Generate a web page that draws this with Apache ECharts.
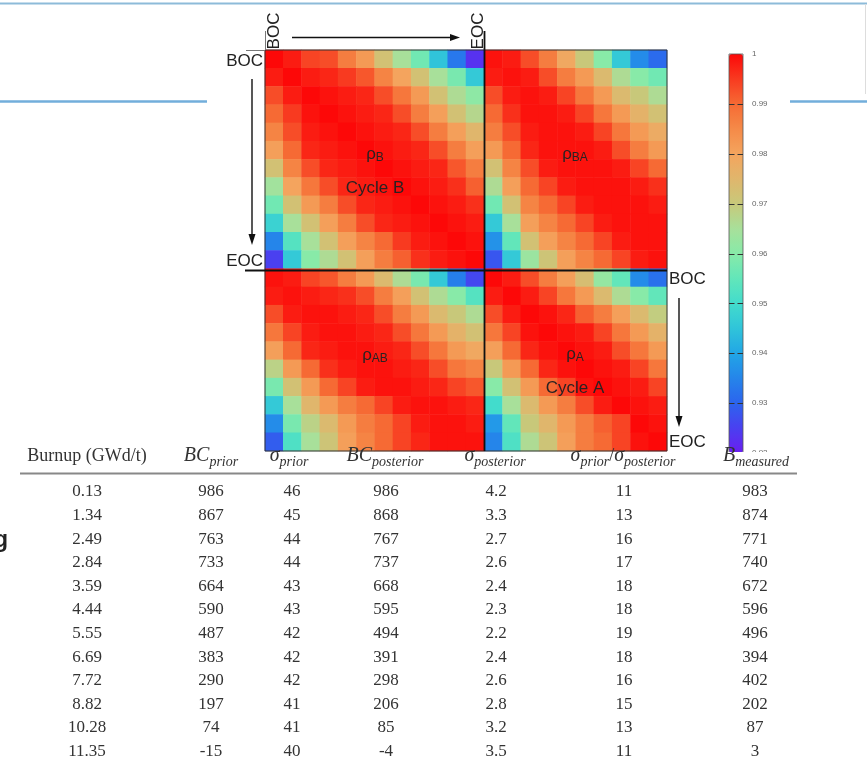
<!DOCTYPE html>
<html><head><meta charset="utf-8">
<script src="https://cdn.jsdelivr.net/npm/echarts@6/dist/echarts.min.js"></script>
<style>html,body{margin:0;padding:0;background:#fff}#c{width:867px;height:761px}</style>
</head><body><div id="c"></div>
<script>
// ---------- data ----------
const burnup = ['0.13','1.34','2.49','2.84','3.59','4.44','5.55','6.69','7.72','8.82','10.28','11.35'];
const bcPrior = [986,867,763,733,664,590,487,383,290,197,74,-15];
const sigPrior = [46,45,44,44,43,43,42,42,42,41,41,40];
const bcPost = [986,868,767,737,668,595,494,391,298,206,85,-4];
const sigPost = ['4.2','3.3','2.7','2.6','2.4','2.3','2.2','2.4','2.6','2.8','3.2','3.5'];
const ratio = [11,13,16,17,18,18,19,18,16,15,13,11];
const bMeas = [983,874,771,740,672,596,496,394,402,202,87,3];

// cycle steps shown on the matrix axes (cycle B: 12 steps, cycle A: 10 visible steps)
const stepsB = burnup.map(b => 'B ' + b);
const stepsA = burnup.slice(0, 10).map(b => 'A ' + b);
const cbTicks = [0.92,0.93,0.94,0.95,0.96,0.97,0.98,0.99,1];

// correlation blocks (rows top->bottom, cols left->right)
const rhoB = [
 [1.000,0.998,0.994,0.993,0.987,0.982,0.972,0.965,0.957,0.945,0.933,0.923],
 [0.998,1.000,0.998,0.997,0.995,0.992,0.986,0.980,0.972,0.965,0.958,0.946],
 [0.993,0.998,1.000,0.999,0.998,0.997,0.993,0.988,0.982,0.972,0.966,0.961],
 [0.990,0.995,0.999,1.000,0.999,0.998,0.997,0.993,0.987,0.981,0.972,0.967],
 [0.986,0.993,0.998,0.999,1.000,0.999,0.998,0.997,0.993,0.987,0.981,0.975],
 [0.981,0.990,0.997,0.998,0.999,1.000,0.999,0.998,0.997,0.993,0.987,0.981],
 [0.972,0.986,0.993,0.997,0.998,0.999,1.000,0.999,0.998,0.997,0.992,0.987],
 [0.964,0.980,0.988,0.993,0.997,0.998,0.999,1.000,0.999,0.998,0.996,0.991],
 [0.957,0.972,0.982,0.987,0.993,0.997,0.998,0.999,1.000,0.999,0.998,0.996],
 [0.948,0.965,0.972,0.981,0.987,0.993,0.997,0.998,0.999,1.000,0.999,0.998],
 [0.935,0.953,0.965,0.972,0.981,0.986,0.990,0.995,0.998,0.999,1.000,0.999],
 [0.925,0.946,0.960,0.966,0.972,0.981,0.987,0.991,0.996,0.998,0.999,1.000]
];
const rhoBA = [
 [0.999,0.998,0.993,0.987,0.979,0.970,0.960,0.946,0.936,0.931],
 [0.998,0.999,0.998,0.993,0.987,0.982,0.974,0.966,0.960,0.957],
 [0.993,0.998,0.999,0.998,0.994,0.988,0.982,0.974,0.970,0.966],
 [0.990,0.996,0.999,0.999,0.998,0.994,0.988,0.982,0.976,0.972],
 [0.987,0.993,0.998,0.999,0.999,0.998,0.994,0.988,0.982,0.978],
 [0.982,0.990,0.997,0.999,0.999,0.999,0.998,0.993,0.987,0.982],
 [0.972,0.986,0.993,0.998,0.999,0.999,0.999,0.998,0.994,0.990],
 [0.966,0.981,0.990,0.994,0.998,0.999,0.999,0.999,0.998,0.996],
 [0.957,0.972,0.986,0.990,0.994,0.998,0.999,0.999,0.999,0.998],
 [0.946,0.965,0.981,0.986,0.990,0.994,0.998,0.999,0.999,0.999],
 [0.937,0.955,0.972,0.981,0.986,0.990,0.994,0.998,0.999,0.999],
 [0.928,0.946,0.963,0.971,0.981,0.986,0.990,0.994,0.998,0.999]
];
const rhoAB = [
 [0.999,0.998,0.994,0.992,0.987,0.982,0.974,0.966,0.958,0.946,0.934,0.926],
 [0.998,0.999,0.998,0.997,0.996,0.993,0.987,0.981,0.972,0.966,0.960,0.953],
 [0.993,0.998,0.999,0.999,0.998,0.997,0.993,0.987,0.982,0.974,0.970,0.966],
 [0.988,0.994,0.998,0.999,0.999,0.998,0.997,0.993,0.988,0.982,0.976,0.972],
 [0.981,0.990,0.997,0.998,0.999,0.999,0.998,0.997,0.993,0.988,0.982,0.979],
 [0.968,0.982,0.990,0.996,0.998,0.999,0.999,0.998,0.997,0.993,0.988,0.986],
 [0.958,0.972,0.982,0.990,0.994,0.998,0.999,0.999,0.998,0.997,0.994,0.992],
 [0.946,0.965,0.975,0.982,0.987,0.990,0.994,0.998,0.999,0.999,0.998,0.997],
 [0.936,0.958,0.968,0.974,0.982,0.987,0.990,0.994,0.998,0.999,0.999,0.998],
 [0.929,0.952,0.965,0.971,0.981,0.986,0.990,0.994,0.997,0.999,0.999,0.999]
];
const rhoA = [
 [1.000,0.998,0.993,0.987,0.981,0.973,0.962,0.955,0.936,0.932],
 [0.998,1.000,0.998,0.994,0.988,0.982,0.974,0.966,0.960,0.955],
 [0.993,0.998,1.000,0.999,0.997,0.991,0.987,0.981,0.974,0.969],
 [0.988,0.994,0.999,1.000,0.999,0.998,0.994,0.988,0.982,0.976],
 [0.981,0.990,0.997,0.999,1.000,0.999,0.998,0.993,0.988,0.982],
 [0.970,0.982,0.990,0.997,0.999,1.000,0.999,0.998,0.994,0.988],
 [0.960,0.972,0.982,0.990,0.994,0.999,1.000,0.999,0.998,0.994],
 [0.950,0.965,0.974,0.982,0.987,0.993,0.998,1.000,0.999,0.998],
 [0.938,0.955,0.970,0.975,0.982,0.987,0.991,0.994,1.000,0.999],
 [0.935,0.952,0.966,0.971,0.981,0.987,0.990,0.994,0.999,1.000]
];

// ---------- build ----------
const cats = stepsB.concat(stepsA);
const nB = stepsB.length;
const heat = [];
function addBlock(m, x0, y0){ m.forEach((row,i)=>row.forEach((v,j)=>heat.push([x0+j, y0+i, v]))); }
addBlock(rhoB, 0, 0); addBlock(rhoBA, nB, 0); addBlock(rhoAB, 0, nB); addBlock(rhoA, nB, nB);

const cv = document.createElement('canvas').getContext('2d');
function tw(t, f){ cv.font = f; return cv.measureText(t).width; }
function T(t, x, y, font, fill, align, valign, extra){
  const o = {type:'text', x:x, y:y, z:100, style:{text:t, font:font, fill:fill||'#222',
    align:align||'left', verticalAlign:valign||'middle', textAlign:align||'left', textVerticalAlign:valign||'middle'}};
  return Object.assign(o, extra||{});
}
function mathText(parts, cx, cy, color){
  const w = parts.map(p=>tw(p[0], p[1]));
  const tot = w.reduce((a,b)=>a+b,0);
  let x = cx - tot/2; const out = [];
  parts.forEach((p,i)=>{ out.push(T(p[0], x, cy+(p[2]||0), p[1], color, 'left', 'middle')); x += w[i]; });
  return out;
}
function L(x1,y1,x2,y2,c,w,z){ return {type:'line', z:z||90, shape:{x1,y1,x2,y2}, style:{stroke:c, lineWidth:w}}; }
function P(pts,c){ return {type:'polygon', z:90, shape:{points:pts}, style:{fill:c}}; }

const SANS = '"Liberation Sans", Arial, sans-serif';
const SERIF = '"Liberation Serif", "Times New Roman", serif';
const lab = '17px ' + SANS, labS = '12px ' + SANS;
const g = [];
// slide decoration lines
g.push(L(0,3.5,867,3.5,'#8dbbd9',2));
g.push(L(0,101.5,207,101.5,'#72aedb',2.5));
g.push(L(790,101.5,867,101.5,'#72aedb',2.5));
g.push(L(865.5,4,865.5,94,'#dddddd',1));
g.push(T('g', 8, 541, 'bold 23px ' + SANS, '#222', 'right', 'middle'));

// matrix frame + block dividers
g.push({type:'rect', z:90, shape:{x:265,y:50,width:402,height:401}, style:{fill:'none', stroke:'#333', lineWidth:1}});
g.push(L(484.5,31,484.5,451,'#111',1.8));
g.push(L(245,270.5,667,270.5,'#111',1.8));
g.push(L(265.5,31,265.5,50,'#777',1));
g.push(L(246,50.5,265,50.5,'#777',1));
// BOC / EOC labels
g.push(T('BOC', 274, 31, lab, '#222', 'center', 'middle', {rotation:Math.PI/2}));
g.push(T('EOC', 478, 31, lab, '#222', 'center', 'middle', {rotation:Math.PI/2}));
g.push(T('BOC', 263, 61, lab, '#222', 'right', 'middle'));
g.push(T('EOC', 263, 261, lab, '#222', 'right', 'middle'));
g.push(T('BOC', 669, 279.5, lab, '#222', 'left', 'middle'));
g.push(T('EOC', 669, 442, lab, '#222', 'left', 'middle'));
// arrows
g.push(L(292,37.5,452,37.5,'#111',1.4)); g.push(P([[460,37.5],[450,34],[450,41]],'#111'));
g.push(L(252,79,252,236,'#111',1.4)); g.push(P([[252,245],[248.5,234],[255.5,234]],'#111'));
g.push(L(679,298,679,418,'#111',1.4)); g.push(P([[679,427],[675.5,416],[682.5,416]],'#111'));
// block labels
const txtC = '#2b2222';
g.push(...mathText([['ρ',lab,0],['B',labS,4]], 375, 154, txtC));
g.push(T('Cycle B', 375, 188.5, lab, txtC, 'center', 'middle'));
g.push(...mathText([['ρ',lab,0],['BA',labS,4]], 575, 154, txtC));
g.push(...mathText([['ρ',lab,0],['AB',labS,4]], 375, 355, txtC));
g.push(...mathText([['ρ',lab,0],['A',labS,4]], 575, 354, txtC));
g.push(T('Cycle A', 575, 388.5, lab, txtC, 'center', 'middle'));
// colorbar outline
g.push({type:'rect', z:95, shape:{x:729,y:54,width:14,height:399}, style:{fill:'none', stroke:'#555', lineWidth:0.8}});
// table panel (white, sits over the bottom of the figure)
g.push({type:'rect', z:96, shape:{x:0,y:452,width:867,height:309}, style:{fill:'#fff'}});

// table
const tc = '#333';
const hF = '18px ' + SERIF, hI = 'italic 20px ' + SERIF, hS = 'italic 14px ' + SERIF;
const hy = 456;
g.push(T('Burnup (GWd/t)', 87, hy, hF, tc, 'center', 'middle'));
g.push(...mathText([['BC',hI,0],['prior',hS,6]], 211, hy, tc));
g.push(...mathText([['σ',hI,0],['prior',hS,6]], 289, hy, tc));
g.push(...mathText([['BC',hI,0],['posterior',hS,6]], 385, hy, tc));
g.push(...mathText([['σ',hI,0],['posterior',hS,6]], 495, hy, tc));
g.push(...mathText([['σ',hI,0],['prior',hS,6],['/',hF,0],['σ',hI,0],['posterior',hS,6]], 623, hy, tc));
g.push(...mathText([['B',hI,0],['measured',hS,6]], 756, hy, tc));
g.push(L(20,473.5,797,473.5,'#888',2, 100));
const cols = [burnup, bcPrior, sigPrior, bcPost, sigPost, ratio, bMeas];
const colX = [87, 211, 292, 386, 496, 624, 755];
const dF = '17px ' + SERIF;
cols.forEach((col,ci)=>col.forEach((v,k)=>{
  g.push(T(String(v), colX[ci], 492 + 23.6*k, dF, tc, 'center', 'middle'));
}));

const chart = echarts.init(document.getElementById('c'));
chart.setOption({
  animation:false,
  backgroundColor:'#fff',
  grid:[
    {left:265, top:50, width:402, height:401, show:false},
    {left:729, top:54, width:14, height:399, show:false}
  ],
  xAxis:[
    {type:'category', gridIndex:0, data:cats, show:false},
    {type:'value', gridIndex:1, show:false, min:0, max:1}
  ],
  yAxis:[
    {type:'category', gridIndex:0, data:cats, inverse:true, show:false},
    {type:'value', gridIndex:1, position:'right', min:cbTicks[0], max:cbTicks[cbTicks.length-1], interval:0.01, z:10,
     axisLine:{show:false}, splitLine:{show:false}, axisTick:{show:false},
     axisLabel:{show:true, margin:9, fontSize:8, color:'#666', fontFamily:SANS,
       formatter:v=> (Math.abs(v-1)<1e-6 ? '1' : v.toFixed(2))}}
  ],
  visualMap:{type:'continuous', min:0.92, max:1, seriesIndex:0, calculable:false, hoverLink:false,
    orient:'vertical', left:729, top:54, itemWidth:14, itemHeight:399, padding:0,
    inRange:{color:['#6a1ef0','#4a40f0','#2c64ee','#2585ea','#22a6e6','#30c4da','#42dccc','#62e6ba','#88eaa8',
                    '#a8e09a','#c8c87a','#e0b66c','#f4a45e','#f58a48','#f66a34','#f83a20','#fd0808']}},
  series:[{type:'heatmap', xAxisIndex:0, yAxisIndex:0, data:heat, progressive:0, emphasis:{disabled:true}}],
  graphic:{elements:g}
});
// colorbar tick marks, placed through the colorbar axis scale
const ticks = [];
cbTicks.slice(1, -1).forEach(v=>{
  const y = Math.round(chart.convertToPixel({yAxisIndex:1}, v)) + 0.5;
  ticks.push(L(729, y, 734.5, y, '#333', 1, 99));
  ticks.push(L(737.5, y, 743, y, '#333', 1, 99));
});
chart.setOption({graphic:{elements:g.concat(ticks)}});
</script></body></html>
